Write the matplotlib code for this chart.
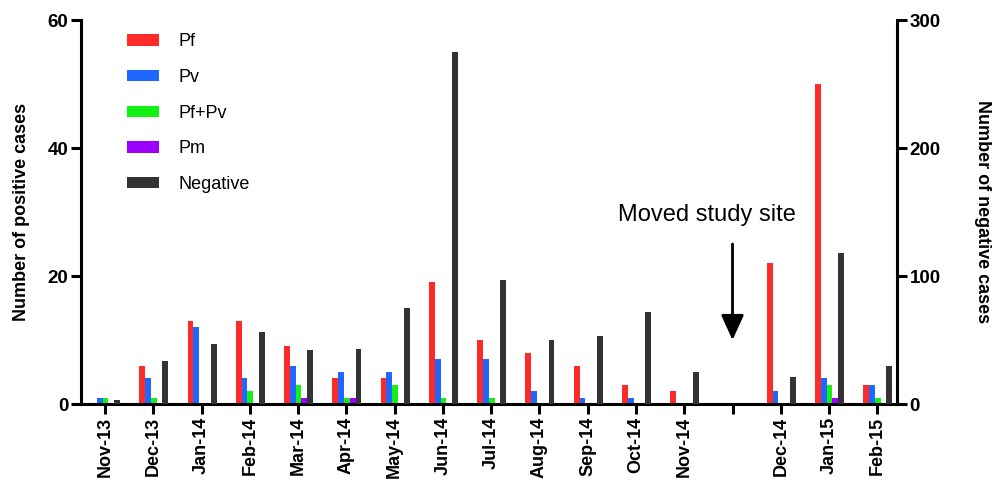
import matplotlib
matplotlib.use("Agg")
import matplotlib.pyplot as plt
import numpy as np

plt.rcParams['font.family'] = ['Liberation Sans', 'DejaVu Sans']

months = ["Nov-13", "Dec-13", "Jan-14", "Feb-14", "Mar-14", "Apr-14", "May-14",
          "Jun-14", "Jul-14", "Aug-14", "Sep-14", "Oct-14", "Nov-14", "",
          "Dec-14", "Jan-15", "Feb-15"]

pf = [0, 6, 13, 13, 9, 4, 4, 19, 10, 8, 6, 3, 2, 0, 22, 50, 3]
pv = [1, 4, 12, 4, 6, 5, 5, 7, 7, 2, 1, 1, 0, 0, 2, 4, 3]
pf_pv = [1, 1, 0, 2, 3, 1, 3, 1, 1, 0, 0, 0, 0, 0, 0, 3, 1]
pm = [0, 0, 0, 0, 1, 1, 0, 0, 0, 0, 0, 0, 0, 0, 0, 1, 0]
negative = [3, 34, 47, 56, 42, 43, 75, 275, 97, 50, 53, 72, 25, 0, 21, 118, 30]

left_ticks = [0, 20, 40, 60]
right_ticks = [0, 100, 200, 300]

colors = {"Pf": "#ff2a2a", "Pv": "#1f68ff", "Pf+Pv": "#14f014",
          "Pm": "#9b00ff", "Negative": "#333333"}

x = np.arange(len(months))
w = 0.12
off0 = 0.01

fig = plt.figure(figsize=(9.99, 4.88), dpi=100)
ax = fig.add_axes([0.081, 0.172, 0.817, 0.787])
ax2 = ax.twinx()

handles = []
for i, (name, vals) in enumerate([("Pf", pf), ("Pv", pv), ("Pf+Pv", pf_pv), ("Pm", pm)]):
    h = ax.bar(x + off0 + (i - 2) * w, vals, width=w, color=colors[name],
               label=name, linewidth=0)
    handles.append(h)
h = ax2.bar(x + off0 + 2 * w, negative, width=w, color=colors["Negative"],
            label="Negative", linewidth=0)
handles.append(h)

ax.set_xlim(-0.5, 16.41)
ax.set_ylim(0, 60)
ax2.set_ylim(0, 300)
ax.set_yticks(left_ticks)
ax2.set_yticks(right_ticks)
ax.set_xticks(x)
ax.set_xticklabels(months, rotation=90, fontsize=13, fontweight='bold')
for t in ax.get_yticklabels():
    t.set_fontsize(13.5)
    t.set_fontweight('bold')
for t in ax2.get_yticklabels():
    t.set_fontsize(13.5)
    t.set_fontweight('bold')

for a in (ax, ax2):
    a.spines['top'].set_visible(False)
    for s in a.spines.values():
        s.set_linewidth(2.2)
    a.tick_params(width=2.2, length=7, pad=2)
ax.spines['right'].set_visible(False)
ax2.spines['left'].set_visible(False)
ax2.spines['bottom'].set_visible(False)

ax.set_ylabel("Number of positive cases", fontsize=13, fontweight='bold', labelpad=13)
ax2.set_ylabel("Number of negative cases", fontsize=13, fontweight='bold',
               rotation=270, labelpad=36)

ax.legend(handles=handles, loc='upper left', bbox_to_anchor=(0.056, 0.965),
          frameon=False, fontsize=13, handlelength=1.8, handleheight=0.6,
          handletextpad=1.05, labelspacing=1.03, borderpad=0, borderaxespad=0)

ax.text(12.47, 29.5, "Moved study site", fontsize=17, ha='center', va='center')
ax.annotate("", xy=(13, 10), xytext=(13, 25),
            arrowprops=dict(arrowstyle='-|>,head_length=1.1,head_width=0.5',
                            lw=2, color='black', mutation_scale=14,
                            shrinkA=0, shrinkB=0))

fig.savefig("out.png", dpi=100)
